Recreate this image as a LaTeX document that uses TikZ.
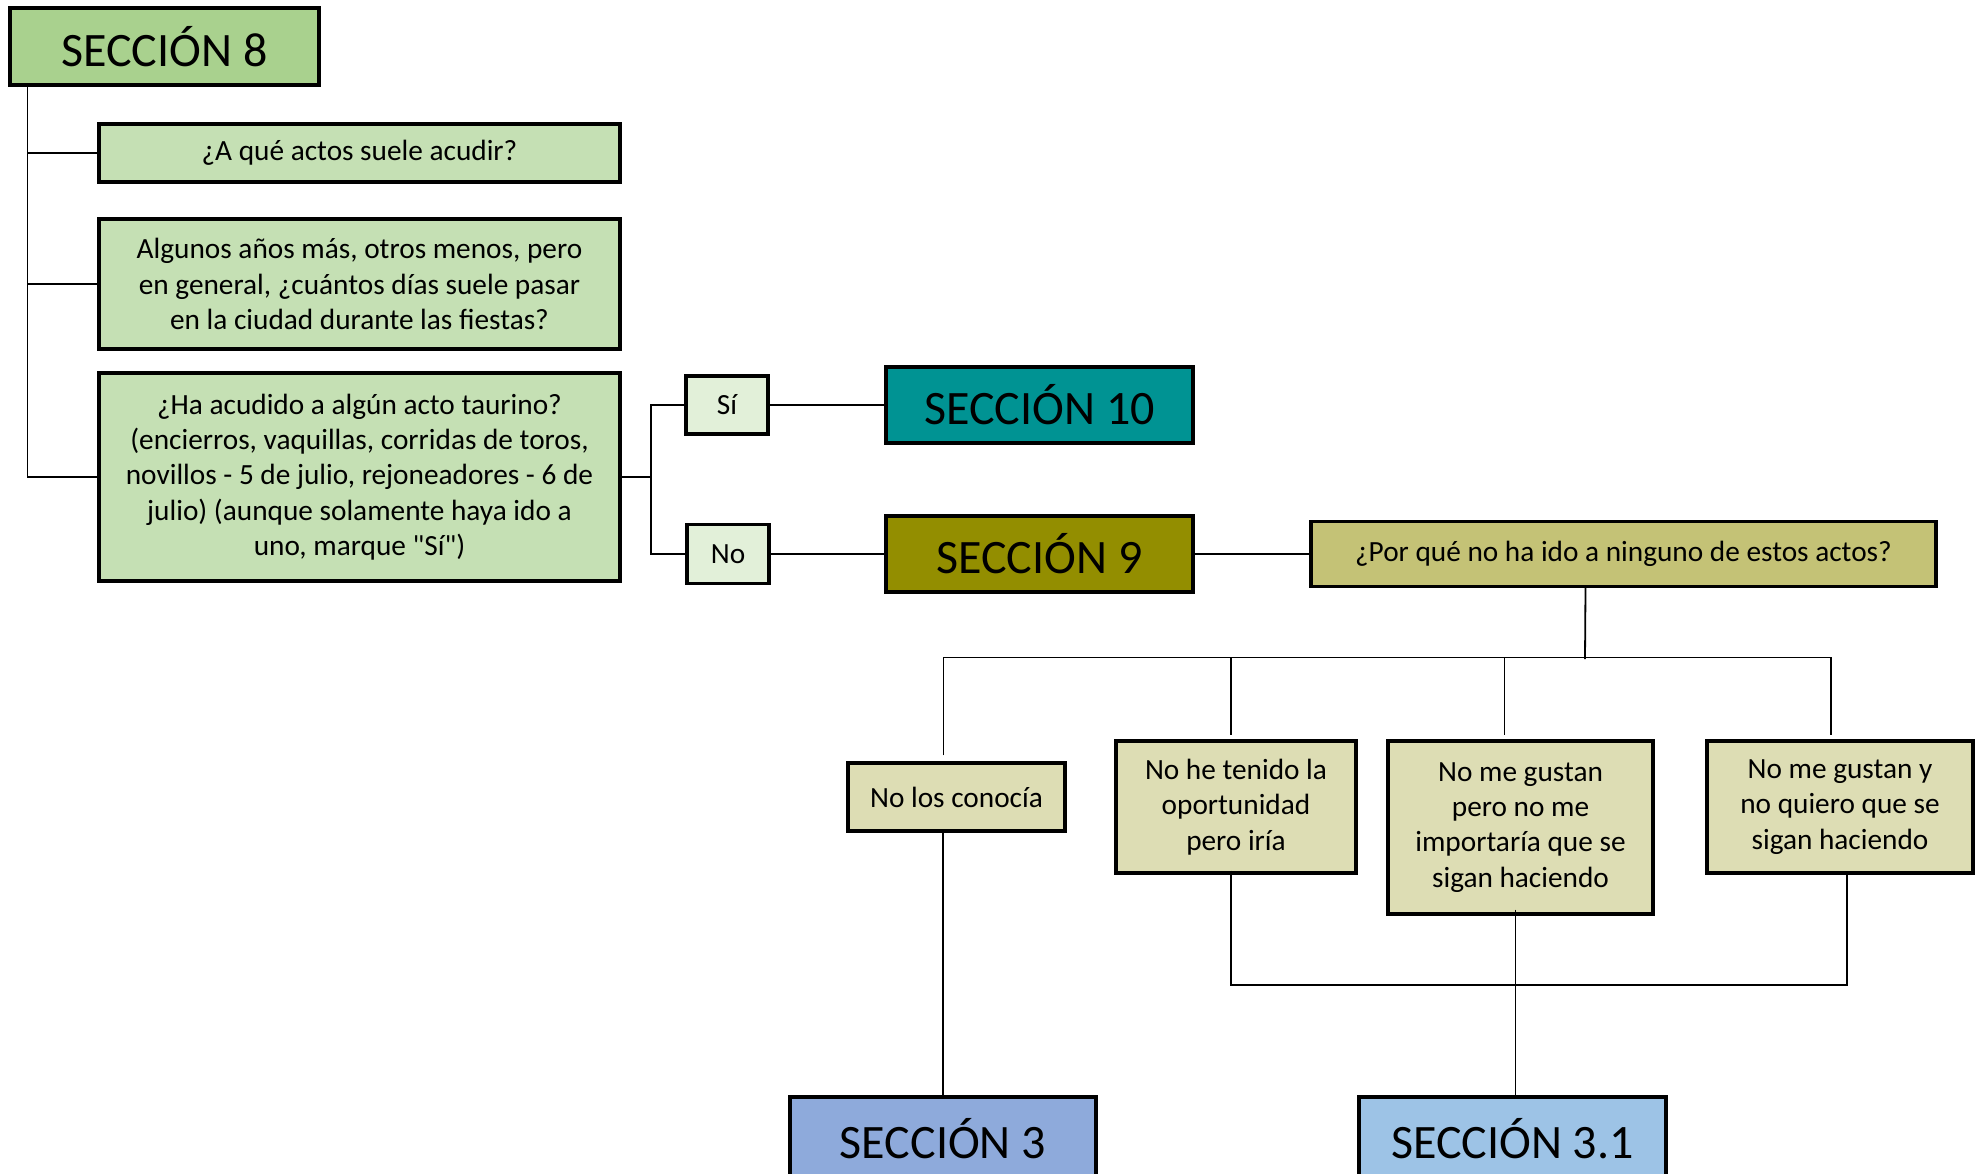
\documentclass[tikz,border=0pt]{standalone}
\usepackage{fontspec}
\setmainfont{Carlito}
\newfontfamily\rawfont{Carlito}
\usetikzlibrary{calc}
\definecolor{cS8}{HTML}{A9D18E}
\definecolor{cQ}{HTML}{C5E0B4}
\definecolor{cYN}{HTML}{E2F0D9}
\definecolor{cS10}{HTML}{009393}
\definecolor{cS9}{HTML}{938E00}
\definecolor{cPQ}{HTML}{C4C276}
\definecolor{cA}{HTML}{DDDDB4}
\definecolor{cS3}{HTML}{8EAADB}
\definecolor{cS31}{HTML}{9DC3E6}
\begin{document}
\begin{tikzpicture}[x=1pt,y=-1pt,
  box/.style={draw=black,line width=3.2pt,align=center,inner sep=0pt,
    font=\fontsize{29.3}{35.2}\selectfont},
  sec/.style={draw=black,line width=3.2pt,align=center,inner sep=0pt,
    font=\fontsize{48}{56}\selectfont},
  conn/.style={draw=black,line width=1.8pt}]
\useasboundingbox (0,0) rectangle (1984,1173);
\begin{scope}
\clip (0,0) rectangle (1984,1173);
% nodes
\node[sec,fill=cS8,minimum width=309pt,minimum height=77pt] (s8) at (164.5,46.5) {SECCIÓN 8};
\node[box,fill=cQ,minimum width=521pt,minimum height=58pt] (q1) at (359.5,153) {¿A qué actos suele acudir?};
\node[box,fill=cQ,minimum width=521pt,minimum height=130pt] (q2) at (359.5,284) {Algunos años más, otros menos, pero\\en general, ¿cuántos días suele pasar\\en la ciudad durante las fiestas?};
\node[box,fill=cQ,minimum width=521pt,minimum height=208pt] (q3) at (359.5,477) {¿Ha acudido a algún acto taurino?\\(encierros, vaquillas, corridas de toros,\\novillos - 5 de julio, rejoneadores - 6 de\\julio) (aunque solamente haya ido a\\uno, marque {\rawfont"Sí"})};
\node[box,fill=cYN,minimum width=82pt,minimum height=58pt] (si) at (727,405) {Sí};
\node[box,fill=cYN,minimum width=82pt,minimum height=59pt] (no) at (728,554) {No};
\node[sec,fill=cS10,minimum width=307pt,minimum height=76pt] (s10) at (1039.5,405) {SECCIÓN 10};
\node[sec,fill=cS9,minimum width=307pt,minimum height=76pt] (s9) at (1039.5,554) {SECCIÓN 9};
\node[box,fill=cPQ,minimum width=625pt,minimum height=65pt] (pq) at (1623.5,554) {¿Por qué no ha ido a ninguno de estos actos?};
\node[box,fill=cA,minimum width=217pt,minimum height=68pt] (a1) at (956.5,797) {No los conocía};
\node[box,fill=cA,minimum width=240pt,minimum height=132pt] (a2) at (1236,807) {No he tenido la\\oportunidad\\pero iría};
\node[box,fill=cA,minimum width=265pt,minimum height=173pt] (a3) at (1520.5,827.5) {No me gustan\\pero no me\\importaría que se\\sigan haciendo};
\node[box,fill=cA,minimum width=266pt,minimum height=132pt] (a4) at (1840,807) {No me gustan y\\no quiero que se\\sigan haciendo};
\node[sec,fill=cS3,minimum width=306pt,minimum height=84pt] (s3) at (943,1139) {SECCIÓN 3};
\node[sec,fill=cS31,minimum width=307pt,minimum height=84pt] (s31) at (1512.5,1139) {SECCIÓN 3.1};
% connectors
\coordinate (spT) at ($(s8.south west)+(19,0)$);
\draw[conn] (spT) |- (q3.west);
\draw[conn] (spT |- q1.west) -- (q1.west);
\draw[conn] (spT |- q2.west) -- (q2.west);
\coordinate (br) at ($(q3.east)+(29,0)$);
\draw[conn] (q3.east) -- (br);
\draw[conn] (si.west) -| (br |- no.west) -- (no.west);
\draw[conn] (si.east) -- (s10.west);
\draw[conn] (no.east) -- (s9.west);
\draw[conn] (s9.east) -- (pq.west);
\coordinate (bus) at (1585,659);
\draw[conn] ($(pq.south)+(-38,0)$) -- (bus);
\draw[conn] ($(a1.north)+(-13,-6)$) |- ($(a4.north)+(-9,-82)$) -- ($(a4.north)+(-9,-4)$);
\draw[conn] ($(a2.north)+(-5,-82)$) -- ($(a2.north)+(-5,-4)$);
\draw[conn] ($(a3.north)+(-16,-82)$) -- ($(a3.north)+(-16,-4)$);
\draw[conn] ($(a2.south)+(-5,-4)$) |- ($(a4.south)+(7,110)$) -- (a4.south -| {$(a4.south)+(7,110)$});
\draw[conn] ($(a1.south)+(-13,0)$) -- (a1.south -| s3.north) -- (s3.north);
\draw[conn] ($(a3.south)+(-5,-6)$) -- (s31.north -| {$(a3.south)+(-5,-6)$});
\end{scope}
\end{tikzpicture}
\end{document}
